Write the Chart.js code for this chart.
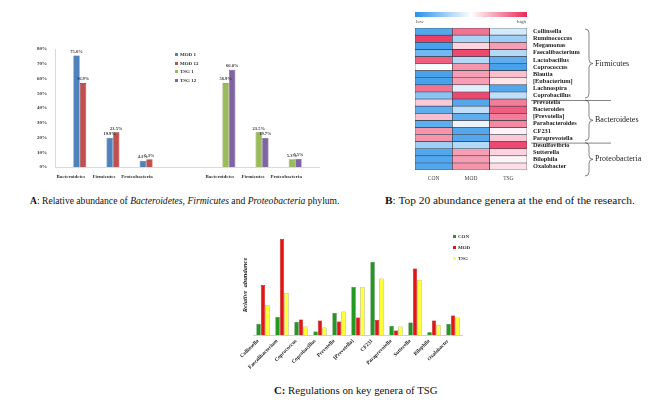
<!DOCTYPE html>
<html>
<head>
<meta charset="utf-8">
<script src="https://cdn.jsdelivr.net/npm/chart.js@4.4.0/dist/chart.umd.min.js"></script>
<style>
  body { margin: 0; width: 653px; height: 402px; background: #fff; position: relative; overflow: hidden;
         font-family: "Liberation Serif", "DejaVu Serif", serif; color: #111; }
  .box { position: absolute; }
  .cap { position: absolute; white-space: nowrap; line-height: 1; }
  .leg { position: absolute; font-size: 5px; font-weight: bold; white-space: nowrap; color: #333; }
  .leg span { display: inline-block; width: 3px; height: 3px; margin-right: 2px; vertical-align: middle; }
</style>
</head>
<body>

<div class="box" style="left:20px; top:38px; width:300px; height:150px;"><canvas id="chartA"></canvas></div>
<div class="leg" id="legendA" style="left:175px; top:52px;"></div>

<div class="box" style="left:405px; top:5px; width:248px; height:182px;"><canvas id="chartB"></canvas></div>

<div class="box" style="left:230px; top:225px; width:250px; height:148px;"><canvas id="chartC"></canvas></div>
<div class="leg" id="legendC" style="left:453px; top:234px;"></div>

<div class="cap" style="left:30px; top:196px; font-size:9.6px;"><b>A</b>: Relative abundance of <i>Bacteroidetes</i>, <i>Firmicutes</i> and <i>Proteobacteria</i> phylum.</div>
<div class="cap" style="left:385px; top:195px; font-size:11.4px;"><b>B</b>: Top 20 abundance genera at the end of the research.</div>
<div class="cap" style="left:274px; top:385px; font-size:10.8px;"><b>C:</b> Regulations on key genera of TSG</div>

<script>
// ---- A: phylum abundance (%)
const phyla = ['Bacteroidetes', 'Firmicutes', 'Proteobacteria'];
const mod1 = [75.6, 19.9, 4.3];
const mod12 = [56.9, 23.5, 5.3];
const tsg1 = [56.9, 23.5, 5.3];
const tsg12 = [66.0, 19.7, 5.5];

// ---- B: heatmap, scaled abundance (-1 low .. 1 high)
const genera = ['Collinsella', 'Ruminococcus', 'Megamonas', 'Faecalibacterium', 'Lactobacillus',
  'Coprococcus', 'Blautia', '[Eubacterium]', 'Lachnospira', 'Coprobacillus',
  'Prevotella', 'Bacteroides', '[Prevotella]', 'Parabacteroides', 'CF231',
  'Paraprevotella', 'Desulfovibrio', 'Sutterella', 'Bilophila', 'Oxalobacter'];
const groupsB = ['CON', 'MOD', 'TSG'];
const conScaled = [-0.8, 0.9, -0.85, -0.65, 0.75, -0.03, -0.85, -0.85, 0.65, -0.55,
  0.25, -0.75, 0.3, -0.75, 0.5, 0.5, -0.45, -0.8, -0.8, -0.8];
const modScaled = [0.65, -0.4, 0.2, 0.85, -0.35, 0.5, 0.45, 0.45, -0.15, 0.85,
  -0.8, -0.3, -0.75, -0.1, -0.8, -0.8, -0.35, 0.45, 0.45, 0.5];
const tsgScaled = [-0.2, -0.45, 0.45, -0.35, -0.75, -0.85, 0.3, 0.12, -0.8, -0.3,
  0.6, 0.75, 0.6, 0.55, 0.05, 0.25, 0.85, 0.2, 0.05, 0.15];
const phylumGroups = [['Firmicutes', 0, 10], ['Bacteroidetes', 10, 16], ['Proteobacteria', 16, 20]];

// ---- C: key genera, relative abundance (arbitrary units)
const keyGenera = ['Collinsella', 'Faecalibacterium', 'Coprococcus', 'Coprobacillus', 'Prevotella',
  '[Prevotella]', 'CF231', 'Paraprevotella', 'Sutterella', 'Bilophila', 'Oxalobacter'];
const conAbund = [11, 18, 13, 3.5, 22, 48, 73, 9, 12.5, 2.7, 11];
const modAbund = [50, 96, 15.5, 14.5, 13.5, 17.5, 15, 4.5, 66.5, 14.5, 19.5];
const tsgAbund = [30, 42, 8.5, 7.5, 23.5, 48, 56.5, 8.5, 55, 10, 17.5];

const serif = '"Liberation Serif", "DejaVu Serif", serif';
Chart.defaults.font.family = serif;
Chart.defaults.animation = false;

// A uses a half-width slot axis so the two groups sit apart, like the original
const slotCount = 16;
const modSlots = [1, 3, 5];
const tsgSlots = [10, 12, 14];
function spread(values, slots) {
  const out = new Array(slotCount).fill(null);
  slots.forEach((s, i) => { out[s] = values[i]; });
  return out;
}
const slotLabels = new Array(slotCount).fill('');
modSlots.forEach((s, i) => { slotLabels[s] = phyla[i]; });
tsgSlots.forEach((s, i) => { slotLabels[s] = phyla[i]; });

const barValueLabels = {
  id: 'barValueLabels',
  afterDatasetsDraw(chart) {
    const ctx = chart.ctx;
    ctx.save();
    ctx.font = 'bold 4.5px ' + serif;
    ctx.fillStyle = '#333';
    ctx.textAlign = 'center';
    ctx.textBaseline = 'bottom';
    chart.data.datasets.forEach((ds, di) => {
      chart.getDatasetMeta(di).data.forEach((bar, i) => {
        if (ds.data[i] == null) return;
        ctx.fillText(ds.data[i].toFixed(1) + '%', bar.x, bar.y - 1.5);
      });
    });
    ctx.restore();
  }
};

const chartA = new Chart(document.getElementById('chartA'), {
  type: 'bar',
  data: {
    labels: slotLabels,
    datasets: [
      { label: 'MOD 1', data: spread(mod1, modSlots), backgroundColor: '#4f81bd', borderColor: '#2c5a8f' },
      { label: 'MOD 12', data: spread(mod12, modSlots), backgroundColor: '#c0504d', borderColor: '#8c2e2b' },
      { label: 'TSG 1', data: spread(tsg1, tsgSlots), backgroundColor: '#9bbb59', borderColor: '#6d8a35' },
      { label: 'TSG 12', data: spread(tsg12, tsgSlots), backgroundColor: '#8064a2', borderColor: '#56407a' }
    ]
  },
  options: {
    responsive: true,
    maintainAspectRatio: false,
    layout: { padding: { top: 11 } },
    datasets: { bar: { skipNull: true, borderWidth: 0.6, categoryPercentage: 0.8, barPercentage: 0.95 } },
    plugins: { legend: { display: false }, tooltip: { enabled: false } },
    scales: {
      x: {
        grid: { display: false, drawTicks: false },
        border: { color: '#d9d9d9' },
        afterFit(scale) { scale.height = 21; },
        ticks: { autoSkip: false, maxRotation: 0, minRotation: 0, padding: 7, labelOffset: -9,
                 color: '#333', font: { size: 5, weight: 'bold' } }
      },
      y: {
        min: 0, max: 80,
        grid: { display: false, drawTicks: false },
        border: { color: '#d9d9d9' },
        afterFit(scale) { scale.width = 35; },
        ticks: { stepSize: 10, padding: 8, color: '#333', font: { size: 5, weight: 'bold' },
                 callback: v => v + '%' }
      }
    }
  },
  plugins: [barValueLabels]
});

function fillLegend(id, chart, gap) {
  const el = document.getElementById(id);
  el.innerHTML = chart.data.datasets.map(ds =>
    '<div style="height:' + gap + 'px"><span style="background:' + ds.backgroundColor + '"></span>' + ds.label + '</div>'
  ).join('');
}
fillLegend('legendA', chartA, 8.5);

// ---- B
const lowRGB = [40, 145, 232];
const highRGB = [234, 40, 85];
function heat(v) {
  const c = v < 0 ? lowRGB : highRGB;
  const t = Math.min(Math.abs(v), 1);
  const mix = c.map(k => Math.round(255 + (k - 255) * t));
  return 'rgb(' + mix.join(',') + ')';
}

const heatExtras = {
  id: 'heatExtras',
  afterDraw(chart) {
    const ctx = chart.ctx;
    const area = chart.chartArea;
    const ys = chart.scales.y;
    ctx.save();
    // colour bar
    const g = ctx.createLinearGradient(area.left, 0, area.right, 0);
    g.addColorStop(0, 'rgb(' + lowRGB.join(',') + ')');
    g.addColorStop(0.5, '#ffffff');
    g.addColorStop(1, 'rgb(' + highRGB.join(',') + ')');
    ctx.fillStyle = g;
    ctx.fillRect(area.left, 7, area.right - area.left, 5);
    ctx.fillStyle = '#444';
    ctx.font = '5px ' + serif;
    ctx.textBaseline = 'top';
    ctx.textAlign = 'left';
    ctx.fillText('low', area.left + 1, 14);
    ctx.textAlign = 'right';
    ctx.fillText('high', area.right - 1, 14);

    // phylum braces and separators
    ctx.strokeStyle = '#333';
    ctx.lineWidth = 0.6;
    ctx.fillStyle = '#222';
    ctx.font = '8px ' + serif;
    ctx.textAlign = 'left';
    ctx.textBaseline = 'middle';
    const bx = area.right + 58;
    phylumGroups.forEach(([name, a, b], gi) => {
      const y1 = ys.getPixelForValue(a) + 1;
      const y2 = ys.getPixelForValue(b) - 1 + (gi === phylumGroups.length - 1 ? 7 : 0);
      const ym = (y1 + y2) / 2;
      ctx.beginPath();
      ctx.moveTo(bx, y1);
      ctx.quadraticCurveTo(bx + 4, y1, bx + 4, y1 + 4);
      ctx.lineTo(bx + 4, ym - 4);
      ctx.quadraticCurveTo(bx + 4, ym, bx + 8, ym);
      ctx.quadraticCurveTo(bx + 4, ym, bx + 4, ym + 4);
      ctx.lineTo(bx + 4, y2 - 4);
      ctx.quadraticCurveTo(bx + 4, y2, bx, y2);
      ctx.stroke();
      ctx.fillText(name, bx + 10, ym);
      if (gi < phylumGroups.length - 1) {
        const ly = ys.getPixelForValue(b) + 1.5;
        ctx.beginPath();
        ctx.moveTo(area.right + 4, ly);
        ctx.lineTo(area.right + 84, ly);
        ctx.stroke();
      }
    });
    ctx.restore();
  }
};

new Chart(document.getElementById('chartB'), {
  type: 'bar',
  data: {
    labels: groupsB,
    datasets: genera.map((name, i) => ({
      label: name,
      data: [1, 1, 1],
      backgroundColor: [heat(conScaled[i]), heat(modScaled[i]), heat(tsgScaled[i])]
    }))
  },
  options: {
    responsive: true,
    maintainAspectRatio: false,
    layout: { padding: { left: 10, top: 23 } },
    datasets: { bar: { categoryPercentage: 1, barPercentage: 1, borderColor: '#2e3440', borderWidth: 0.6, borderSkipped: false } },
    plugins: { legend: { display: false }, tooltip: { enabled: false } },
    scales: {
      x: {
        stacked: true,
        grid: { display: false, drawTicks: false },
        border: { display: false },
        afterFit(scale) { scale.height = 17; },
        ticks: { padding: 5, color: '#444', font: { size: 5.5 } }
      },
      y: {
        stacked: true,
        position: 'right',
        reverse: true,
        min: 0, max: genera.length,
        grid: { display: false, drawTicks: false },
        border: { display: false },
        afterFit(scale) { scale.width = 126; },
        afterBuildTicks(scale) { scale.ticks = genera.map((g, i) => ({ value: i + 0.5 })); },
        ticks: { autoSkip: false, padding: 6, color: '#222', font: { size: 6.3, weight: 'bold' },
                 callback: (v, i) => genera[i] }
      }
    }
  },
  plugins: [heatExtras]
});

// ---- C
const chartC = new Chart(document.getElementById('chartC'), {
  type: 'bar',
  data: {
    labels: keyGenera,
    datasets: [
      { label: 'CON', data: conAbund, backgroundColor: '#229a22', borderColor: '#0d5e0d' },
      { label: 'MOD', data: modAbund, backgroundColor: '#e41414', borderColor: '#8a0a0a' },
      { label: 'TSG', data: tsgAbund, backgroundColor: '#ffff3a', borderColor: '#9c9c1a' }
    ]
  },
  options: {
    responsive: true,
    maintainAspectRatio: false,
    layout: { padding: { top: 10, right: 17.5 } },
    datasets: { bar: { borderWidth: 0.6, categoryPercentage: 0.7, barPercentage: 0.98 } },
    plugins: { legend: { display: false }, tooltip: { enabled: false } },
    scales: {
      x: {
        grid: { display: false, drawTicks: false },
        border: { color: '#cfcfcf' },
        afterFit(scale) { scale.height = 38; },
        ticks: { autoSkip: false, maxRotation: 45, minRotation: 45, padding: 3, labelOffset: -5,
                 color: '#222', font: { size: 5.3, weight: 'bold' } }
      },
      y: {
        min: 0, max: 100,
        grid: { display: false, drawTicks: false },
        border: { display: false },
        ticks: { display: false },
        afterFit(scale) { scale.width = 23.5; },
        title: { display: true, text: 'Relative  abundance', color: '#222',
                 padding: { top: 11, bottom: 0 }, font: { size: 6.5, weight: 'bold', style: 'italic' } }
      }
    }
  }
});
fillLegend('legendC', chartC, 11);
</script>
</body>
</html>
